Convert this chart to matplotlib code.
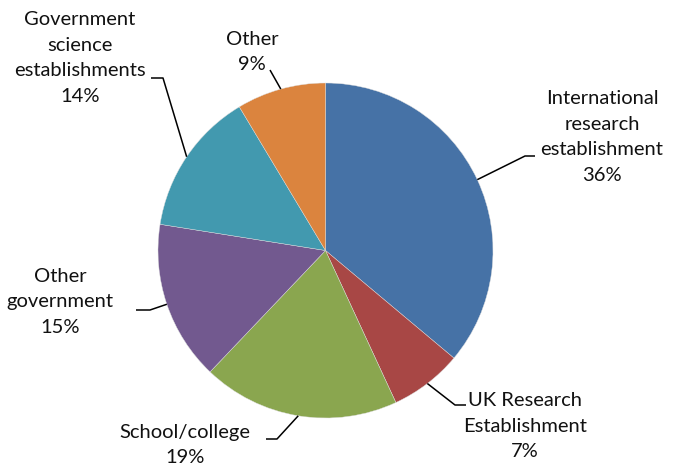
import matplotlib.pyplot as plt
import numpy as np

# data
categories = ["International\nresearch\nestablishment", "UK Research\nEstablishment",
              "School/college", "Other\ngovernment", "Government\nscience\nestablishments",
              "Other"]
shares = [36.1, 7.0, 19.0, 15.4, 13.9, 8.6]
colors = ["#4672A6", "#A84745", "#8AA64F", "#72598F", "#4299AF", "#DB843E"]

W, H = 680, 466
fig = plt.figure(figsize=(W / 100, H / 100), dpi=100)
ax = fig.add_axes([0, 0, 1, 1])

cx, cy, r = 325.5, H - 250.5, 167.5
wedges, _ = ax.pie(shares, colors=colors, startangle=90, counterclock=False,
                   center=(cx, cy), radius=r, frame=True,
                   wedgeprops=dict(linewidth=0.3, edgecolor="#dddddd"))
ax.set_xlim(0, W)
ax.set_ylim(0, H)
ax.axis("off")

# label layout in pixel coords (y down): text centre, leader elbow, leader end
layout = [
    ((602, 137), (525, 156), (535, 156)),
    ((525, 426), (455, 405), (466, 405)),
    ((185, 445), (277, 439), (266, 439)),
    ((60, 302), (150, 310), (136, 310)),
    ((80, 58), (163, 78), (151, 78)),
    ((252, 52), (270, 70), (270, 70)),
]

for w, cat, val, (tc, el, en) in zip(wedges, categories, shares, layout):
    mid = np.deg2rad((w.theta1 + w.theta2) / 2)
    ax0 = cx + r * np.cos(mid)
    ay0 = cy + r * np.sin(mid)
    ax.plot([ax0, el[0], en[0]], [ay0, H - el[1], H - en[1]], color="black", lw=1.1,
            solid_capstyle="butt")
    ax.text(tc[0], H - tc[1], f"{cat}\n{round(val)}%", ha="center", va="center",
            fontsize=14.5, family="Lato", linespacing=1.62, color="#111111")

fig.savefig("out.png", dpi=100)
